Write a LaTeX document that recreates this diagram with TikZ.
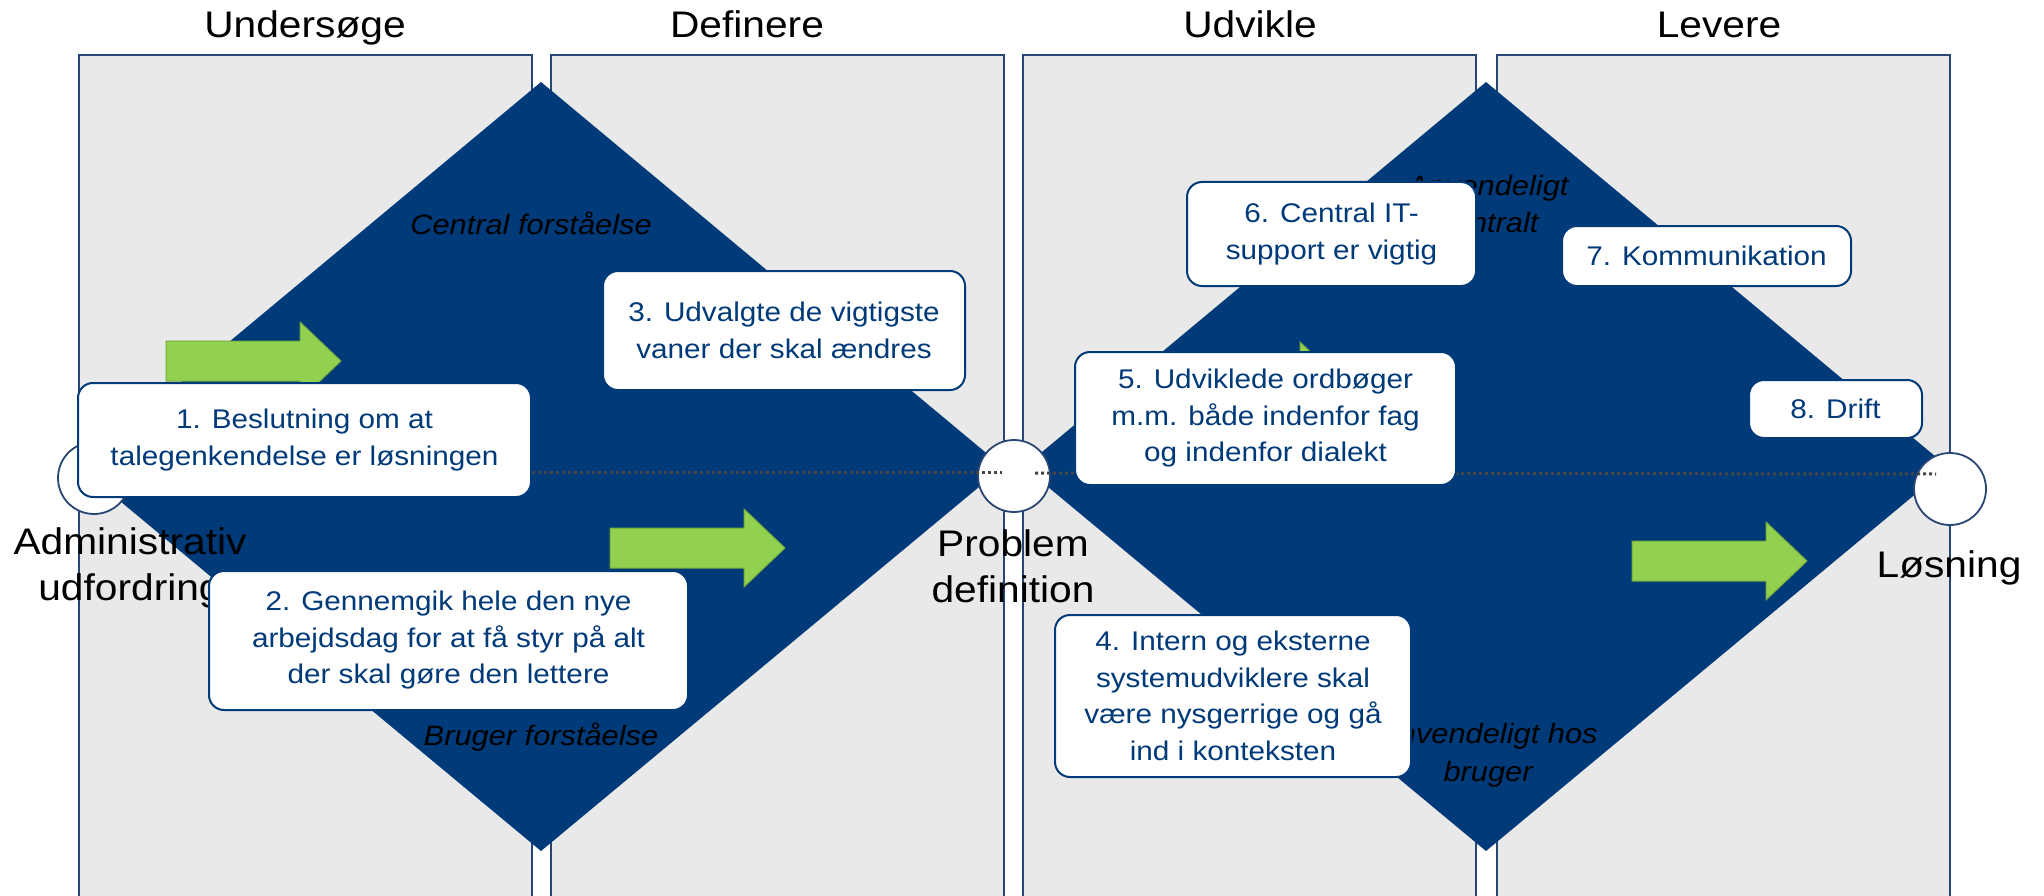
\documentclass[tikz,border=0pt]{standalone}
\usepackage{fontspec}
\setmainfont{Liberation Sans}[FakeStretch=1.1]

\definecolor{navy}{RGB}{0,58,120}
\definecolor{panelgray}{RGB}{233,233,233}
\definecolor{panelline}{RGB}{40,70,115}
\definecolor{arrowgreen}{RGB}{146,208,80}
\definecolor{arrowedge}{RGB}{118,170,62}
\definecolor{dotgray}{RGB}{70,70,70}

\tikzset{
  panel/.style={fill=panelgray, draw=panelline, line width=1.6pt},
  wedge/.style={fill=navy},
  phase/.style={font=\fontsize{37}{46}\selectfont, anchor=base, inner sep=0pt},
  milestone/.style={font=\fontsize{37}{46}\selectfont, align=center, anchor=base, inner sep=0pt},
  focus/.style={font=\fontsize{28}{37.5}\selectfont\itshape, align=center, anchor=base, inner sep=0pt},
  ring/.style={circle, fill=white, draw=panelline, line width=1.8pt, minimum size=72pt, inner sep=0pt},
  guide/.style={draw=dotgray, line width=3pt, dash pattern=on 3pt off 3pt},
  stepbox/.style={rectangle, rounded corners=15pt, fill=white, draw=navy, line width=2pt,
    text=navy, font=\fontsize{27}{36.5}\selectfont, align=center, inner sep=0pt},
  greenarrow/.pic={
    \filldraw[fill=arrowgreen, draw=arrowedge, line width=1pt]
      (0,-20) -- (134,-20) -- (134,-39) -- (175,0) -- (134,39) -- (134,20) -- (0,20) -- cycle;
  }
}

\begin{document}
\begin{tikzpicture}[x=1pt,y=-1pt]
\clip (0,0) rectangle (2044,896);
\fill[white] (0,0) rectangle (2044,896);

% four phase columns
\draw[panel] (79,55) rectangle (532,920);
\draw[panel] (551,55) rectangle (1004,920);
\draw[panel] (1023,55) rectangle (1476,920);
\draw[panel] (1497,55) rectangle (1950,920);

% phase headings
\node[phase] (t1) at (305,38) {Undersøge};
\node[phase] (t2) at (747,38) {Definere};
\node[phase] (t3) at (1250,38) {Udvikle};
\node[phase] (t4) at (1719,38) {Levere};

% the two diamonds
\fill[wedge] (541,82) -- (1003,467) -- (541,851) -- (79,467) -- cycle;
\fill[wedge] (1486,82) -- (1948,467) -- (1486,851) -- (1024,467) -- cycle;

% progress arrows
\pic at (166,361) {greenarrow};
\pic at (610,548) {greenarrow};
\pic at (1166,381) {greenarrow};
\pic at (1632,561) {greenarrow};

% focus labels inside the diamonds (base = last line)
\node[focus] (f1) at (531,234) {Central forståelse};
\node[focus] (f2) at (541,745) {Bruger forståelse};
\node[focus] (f3) at (1488,233) {Anvendeligt\\centralt};
\node[focus] (f4) at (1488,781) {Anvendeligt hos\\bruger};

% milestone labels (base = last line)
\node[milestone] (m1) at (130,600) {Administrativ\\udfordring};
\node[milestone] (m2) at (1013,602) {Problem\\definition};
\node[milestone] (m3) at (1949,577) {Løsning};

% milestone circles
\node[ring] (c1) at (94,478) {};
\node[ring] (c2) at (1014,476) {};
\node[ring] (c3) at (1950,489) {};

% dotted axis through the diamonds
\coordinate (d1) at (94,472);
\coordinate (d2) at (1002,472);
\coordinate (d3) at (1035,473);
\coordinate (d4) at (1936,474);
\draw[guide] (d1) -- (d2);
\draw[guide] (d3) -- (d4);

% numbered steps
\node[stepbox, minimum width=453pt, minimum height=114pt] (b1) at (304.5,440)
  {1. Beslutning om at\\talegenkendelse er løsningen};
\node[stepbox, minimum width=479pt, minimum height=139pt] (b2) at (448.5,640.5)
  {2. Gennemgik hele den nye\\arbejdsdag for at få styr på alt\\der skal gøre den lettere};
\node[stepbox, minimum width=362pt, minimum height=119pt] (b3) at (784,330.5)
  {3. Udvalgte de vigtigste\\vaner der skal ændres};
\node[stepbox, minimum width=356pt, minimum height=162pt] (b4) at (1233,696)
  {4. Intern og eksterne\\systemudviklere skal\\være nysgerrige og gå\\ind i konteksten};
\node[stepbox, minimum width=381pt, minimum height=133pt] (b5) at (1265.5,418.5)
  {5. Udviklede ordbøger\\m.m. både indenfor fag\\og indenfor dialekt};
\node[stepbox, minimum width=289pt, minimum height=104pt] (b6) at (1331.5,234)
  {6. Central IT-\\support er vigtig};
\node[stepbox, minimum width=289pt, minimum height=60pt] (b7) at (1706.5,256)
  {7. Kommunikation};
\node[stepbox, minimum width=173pt, minimum height=58pt] (b8) at (1835.5,409)
  {8. Drift};
\end{tikzpicture}
\end{document}
